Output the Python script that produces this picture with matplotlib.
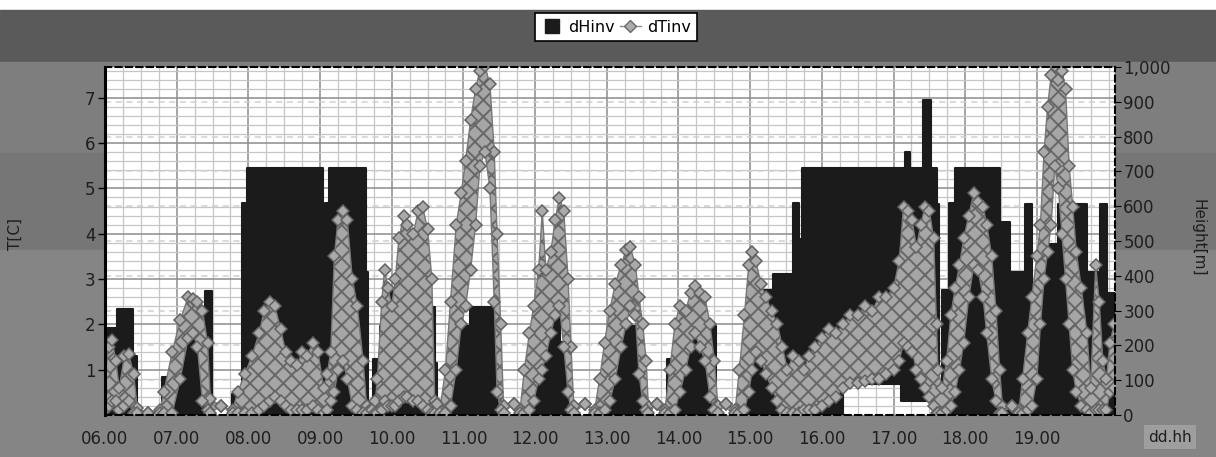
import matplotlib
matplotlib.use('Agg')
import matplotlib.pyplot as plt
from matplotlib.lines import Line2D
from matplotlib.patches import Rectangle
from matplotlib.ticker import FuncFormatter
import numpy as np

# x axis: days (dd.hh)
days = [6, 7, 8, 9, 10, 11, 12, 13, 14, 15, 16, 17, 18, 19]
day_labels = ['06.00', '07.00', '08.00', '09.00', '10.00', '11.00', '12.00',
              '13.00', '14.00', '15.00', '16.00', '17.00', '18.00', '19.00']

# dHinv: inversion height [m], as steps (start day, end day, top, base)
hinv_start = [6.00, 6.17, 6.39, 6.79, 6.93, 7.10, 7.35, 7.39, 7.77, 7.91, 7.98,
              9.04, 9.07, 9.12, 9.64, 9.74, 9.84, 9.93, 10.16, 10.60, 10.84,
              11.09, 11.47, 11.90, 11.96, 12.10, 12.25, 12.35, 12.45, 12.95,
              13.05, 13.18, 13.50, 13.84, 14.00, 14.20, 14.86, 14.95, 15.14,
              15.32, 15.60, 15.68, 15.73, 16.30, 17.10, 17.16, 17.23, 17.41,
              17.53, 17.60, 17.67, 17.78, 17.86, 18.48, 18.62, 18.83, 18.93,
              19.04, 19.29, 19.70, 19.88, 19.98]
hinv_end = [6.17, 6.39, 6.45, 6.93, 7.10, 7.35, 7.39, 7.49, 7.91, 7.98, 9.04,
            9.07, 9.12, 9.64, 9.67, 9.84, 9.93, 10.16, 10.60, 10.63, 11.09,
            11.47, 11.52, 11.96, 12.10, 12.25, 12.35, 12.45, 12.50, 13.05,
            13.18, 13.50, 13.53, 14.00, 14.20, 14.52, 14.95, 15.14, 15.32,
            15.60, 15.68, 15.73, 16.30, 17.10, 17.16, 17.23, 17.41, 17.53,
            17.60, 17.64, 17.78, 17.86, 18.48, 18.62, 18.83, 18.93, 19.04,
            19.29, 19.70, 19.88, 19.98, 20.09]
hinv_top = [250, 305, 170, 110, 160, 225, 180, 355, 60, 610, 710,
            410, 610, 710, 410, 160, 255, 355, 310, 150, 255,
            310, 200, 60, 150, 220, 295, 210, 110, 100,
            180, 255, 120, 160, 200, 255, 150, 250, 360,
            405, 610, 505, 710, 710, 710, 755, 710, 905,
            710, 605, 360, 610, 710, 555, 410, 605, 310,
            490, 605, 410, 605, 350]
hinv_base = [0, 0, 0, 0, 0, 0, 0, 0, 0, 0, 0,
             0, 0, 0, 0, 0, 0, 0, 0, 0, 0,
             0, 0, 0, 0, 0, 0, 0, 0, 0,
             0, 0, 0, 0, 0, 0, 0, 0, 0,
             0, 0, 0, 0, 90, 40, 40, 40, 40,
             40, 0, 0, 0, 0, 0, 0, 0, 0,
             0, 0, 0, 0, 0]

# dTinv: inversion strength [C], upper and lower edge of the point cloud
tinv_day = [6.00, 6.05, 6.10, 6.15, 6.20, 6.27, 6.33, 6.40, 6.45, 6.60, 6.77,
            6.82, 6.94, 7.05, 7.16, 7.23, 7.29, 7.36, 7.43, 7.47, 7.62, 7.78,
            7.85, 7.95, 8.05, 8.15, 8.22, 8.30, 8.37, 8.45, 8.52, 8.60, 8.68,
            8.75, 8.82, 8.90, 8.97, 9.05, 9.10,
            9.15, 9.20, 9.25, 9.32, 9.38, 9.45, 9.52, 9.60, 9.65, 9.72,
            9.77, 9.80, 9.86, 9.90, 9.95, 10.00, 10.05, 10.10, 10.17, 10.22,
            10.30, 10.37, 10.43, 10.50, 10.56, 10.60, 10.63,
            10.67, 10.75, 10.82, 10.90, 10.97, 11.03, 11.10, 11.17, 11.23,
            11.30, 11.37, 11.43, 11.47, 11.52, 11.56, 11.70,
            11.79, 11.85, 11.92, 11.98, 12.05, 12.10, 12.15, 12.22, 12.28,
            12.34, 12.40, 12.46, 12.50, 12.54, 12.70,
            12.83, 12.90, 12.97, 13.04, 13.12, 13.20, 13.27, 13.33, 13.40,
            13.45, 13.50, 13.55, 13.58, 13.70,
            13.81, 13.88, 13.95, 14.02, 14.10, 14.17, 14.23, 14.30, 14.37,
            14.44, 14.50, 14.55, 14.67,
            14.79, 14.85, 14.92, 14.98, 15.03, 15.08, 15.15, 15.22, 15.30,
            15.38, 15.45, 15.52, 15.60, 15.68, 15.75, 15.82, 15.90, 16.00,
            16.10, 16.20, 16.30, 16.40, 16.50, 16.60, 16.70, 16.80, 16.90,
            17.00, 17.08, 17.14, 17.20, 17.26, 17.32, 17.38, 17.44, 17.50,
            17.56, 17.60,
            17.62, 17.68, 17.74, 17.80, 17.86, 17.92, 17.98, 18.05, 18.12,
            18.18, 18.25, 18.30, 18.37, 18.43, 18.48, 18.52, 18.65,
            18.75, 18.80, 18.87, 18.93, 19.00, 19.05, 19.10, 19.15, 19.20,
            19.25, 19.30, 19.35, 19.40, 19.45, 19.50, 19.55, 19.62, 19.70,
            19.75, 19.82, 19.87, 19.92, 19.97, 20.02, 20.08]
tinv_hi = [0.9, 1.5, 1.65, 1.2, 0.6, 1.3, 1.35, 0.9, 0.15, 0.05, 0.1,
           0.5, 1.4, 2.1, 2.6, 2.55, 2.5, 2.3, 1.6, 0.35, 0.2, 0.1,
           0.5, 0.9, 1.3, 1.8, 2.3, 2.5, 2.4, 1.9, 1.4, 1.2, 1.1,
           1.4, 1.3, 1.6, 1.4, 0.6, 0.9,
           1.4, 3.5, 4.3, 4.5, 4.3, 3.0, 2.4, 1.2, 0.2, 0.15,
           0.3, 0.8, 2.5, 3.2, 2.8, 2.4, 3.0, 3.9, 4.4, 4.2,
           4.0, 4.5, 4.6, 4.1, 3.0, 0.3, 0.25,
           0.1, 1.0, 2.5, 4.2, 4.9, 5.6, 6.5, 7.2, 7.6,
           7.7, 7.3, 5.8, 4.0, 2.0, 0.2, 0.25,
           0.1, 1.0, 1.8, 2.4, 3.2, 4.5, 3.2, 3.6, 4.3,
           4.8, 4.5, 3.0, 1.5, 0.2, 0.25,
           0.1, 0.8, 1.6, 2.3, 2.9, 3.3, 3.65, 3.7, 3.3,
           2.6, 2.0, 1.2, 0.2, 0.25,
           0.1, 1.0, 2.0, 2.4, 2.3, 2.7, 2.85, 2.7, 2.6,
           2.0, 1.2, 0.2, 0.25,
           0.1, 1.0, 2.2, 3.3, 3.6, 3.4, 2.9, 2.6, 2.3,
           2.0, 1.5, 1.0, 1.3, 1.2, 1.0, 1.3, 1.5, 1.7,
           1.9, 1.8, 2.0, 2.2, 2.2, 2.4, 2.3, 2.6, 2.6,
           2.8, 3.4, 4.6, 4.5, 4.3, 3.7, 4.2, 4.6, 4.5,
           3.9, 2.0,
           1.0, 0.6, 1.2, 2.2, 2.8, 3.3, 3.9, 4.4, 4.9,
           4.7, 4.6, 4.2, 3.5, 2.3, 1.0, 0.2, 0.2,
           0.1, 0.8, 1.8, 2.6, 3.5, 4.2, 5.8, 6.8, 7.5,
           7.7, 7.4, 7.6, 7.2, 5.5, 4.6, 3.6, 2.8, 1.8,
           0.6, 3.3, 2.5, 1.2, 0.8, 1.6, 2.0]
tinv_lo = [0.1, 0.2, 0.3, 0.3, 0.1, 0.2, 0.3, 0.05, 0.05, 0.05, 0.05,
           0.05, 0.05, 0.8, 1.7, 1.8, 1.5, 0.3, 0.1, 0.05, 0.2, 0.05,
           0.05, 0.05, 0.05, 0.1, 0.2, 0.3, 0.4, 0.3, 0.2, 0.1, 0.1,
           0.1, 0.1, 0.2, 0.1, 0.05, 0.1,
           0.3, 0.5, 1.0, 1.2, 0.8, 0.2, 0.1, 0.05, 0.05, 0.1,
           0.05, 0.05, 0.1, 0.3, 0.2, 0.2, 0.2, 0.3, 0.4, 0.4,
           0.3, 0.3, 0.2, 0.1, 0.05, 0.05, 0.25,
           0.05, 0.05, 0.2, 1.0, 2.0, 2.4, 3.2, 4.2, 5.5,
           5.8, 5.0, 2.5, 0.5, 0.1, 0.05, 0.25,
           0.05, 0.05, 0.1, 0.3, 0.8, 1.0, 1.3, 1.8, 2.2,
           2.4, 1.5, 0.5, 0.1, 0.05, 0.25,
           0.05, 0.05, 0.1, 0.3, 0.8, 1.5, 2.0, 2.4, 2.2,
           0.9, 0.3, 0.1, 0.05, 0.25,
           0.05, 0.05, 0.1, 0.5, 1.0, 1.5, 1.8, 1.5, 1.2,
           0.4, 0.1, 0.05, 0.25,
           0.05, 0.05, 0.1, 0.5, 1.0, 1.4, 1.2, 0.9, 0.6,
           0.3, 0.1, 0.05, 0.05, 0.05, 0.1, 0.1, 0.1, 0.2,
           0.3, 0.4, 0.6, 0.7, 0.7, 0.75, 0.8, 0.8, 0.9,
           1.0, 1.2, 1.6, 1.5, 1.4, 1.0, 0.8, 0.6, 0.4,
           0.2, 0.05,
           0.05, 0.05, 0.1, 0.2, 0.5, 1.0, 1.6, 2.6, 3.3,
           3.2, 2.6, 1.8, 0.8, 0.3, 0.05, 0.05, 0.2,
           0.05, 0.05, 0.1, 0.2, 0.8, 2.0, 3.0, 3.6, 4.2,
           5.5, 5.0, 4.0, 3.0, 2.0, 1.0, 0.5, 0.2, 0.1,
           0.05, 0.1, 0.1, 0.1, 0.1, 0.5, 0.6]

plt.rcParams['hatch.linewidth'] = 1.4

W, H = 1216, 457
fig = plt.figure(figsize=(W / 100, H / 100), dpi=100)

# grey panel bands behind the chart
bands = [(0, 10, 'white'), (10, 62, '#5a5a5a'), (62, 153, '#7e7e7e'),
         (153, 250, '#767676'), (250, 457, '#858585')]
for top, bot, col in bands:
    fig.add_artist(Rectangle((0, 1 - bot / H), 1, (bot - top) / H,
                             transform=fig.transFigure, color=col, zorder=-10))

rect = [105 / W, 42 / H, 1010 / W, 348 / H]
ax_bg = fig.add_axes(rect)
ax_bg.set_facecolor('white')
ax_bg.set_xlim(6.0, 20.09)
ax_bg.set_ylim(0, 7.68)
ax_bg.set_xticks(days)
ax_bg.set_xticklabels(day_labels)
ax_bg.set_xticks(np.arange(6, 20.1, 0.25), minor=True)
ax_bg.set_yticks(range(1, 8))
ax_bg.set_yticks(np.arange(0.2, 7.7, 0.2), minor=True)
ax_bg.grid(which='minor', color='#c6c6c6', linewidth=0.9)
ax_bg.grid(which='major', color='#8c8c8c', linewidth=1.1)
ax_bg.tick_params(axis='x', which='both', length=0, pad=11, labelsize=12,
                  labelcolor='#1e1e1e')
ax_bg.tick_params(axis='y', which='major', length=5, width=1, labelsize=12,
                  labelcolor='#1e1e1e', pad=2)
ax_bg.tick_params(axis='y', which='minor', length=0)
for s in ax_bg.spines.values():
    s.set_visible(False)
ax_bg.set_ylabel('T[C]', fontsize=11, color='#1e1e1e')
ax_bg.yaxis.set_label_coords(-0.081, 0.52)

# dHinv on the right height axis
axh = ax_bg.twinx()
axh.set_ylim(0, 1000)
axh.set_yticks(range(0, 1001, 100))
axh.yaxis.set_major_formatter(FuncFormatter(lambda v, p: f'{int(v):,}'))
axh.set_axisbelow(True)
axh.grid(axis='y', color='#d0d0d0', linestyle=(0, (4, 3)), linewidth=1.1)
widths = np.array(hinv_end) - np.array(hinv_start)
heights = np.array(hinv_top) - np.array(hinv_base)
axh.bar(hinv_start, heights, width=widths, bottom=hinv_base, align='edge',
        color='#1b1b1b', edgecolor='#1b1b1b', linewidth=1.5, joinstyle='round')
axh.tick_params(axis='y', length=4, labelsize=12, labelcolor='#1e1e1e', pad=2)
for s in axh.spines.values():
    s.set_visible(False)
axh.set_ylabel('Height[m]', rotation=270, fontsize=11, color='#1e1e1e',
               va='center')
axh.yaxis.set_label_coords(1.082, 0.51)

# dTinv on top
ax = ax_bg.twinx()
ax.set_ylim(0, 7.68)
ax.set_yticks([])
ax.fill_between(tinv_day, tinv_lo, tinv_hi, facecolor='#a6a6a6',
                edgecolor='#676767', hatch='xx', linewidth=0)
mk = dict(color='#777777', linewidth=1, marker='D', markersize=6,
          markerfacecolor='#aaaaaa', markeredgecolor='#626262',
          markeredgewidth=1.1)
ax.plot(tinv_day, tinv_hi, **mk)
ax.plot(tinv_day, tinv_lo, **mk)
for side in ['top', 'bottom', 'right']:
    ax.spines[side].set_linestyle((0, (3, 2)))
    ax.spines[side].set_linewidth(1.5)
    ax.spines[side].set_color('black')
ax.spines['left'].set_linewidth(2.2)
ax.spines['left'].set_color('black')

handles = [Line2D([], [], linestyle='none', marker='s', markersize=10,
                  color='#1b1b1b'),
           Line2D([], [], color='#8a8a8a', linewidth=1, marker='D',
                  markersize=6.5, markerfacecolor='#ababab',
                  markeredgecolor='#6a6a6a')]
leg = fig.legend(handles, ['dHinv', 'dTinv'], loc='center',
                 bbox_to_anchor=(616 / W, 1 - 27 / H), ncol=2, fontsize=11.5,
                 frameon=True, fancybox=False, edgecolor='black',
                 framealpha=1, handlelength=1.3, handletextpad=0.4,
                 columnspacing=0.3, borderpad=0.4)
leg.get_frame().set_linewidth(1.2)

fig.text(1170 / W, 1 - 437 / H, 'dd.hh', ha='center', va='center',
         fontsize=11, color='#1e1e1e',
         bbox=dict(facecolor='#9e9e9e', edgecolor='none', pad=3))

fig.savefig('out.png', dpi=100)
